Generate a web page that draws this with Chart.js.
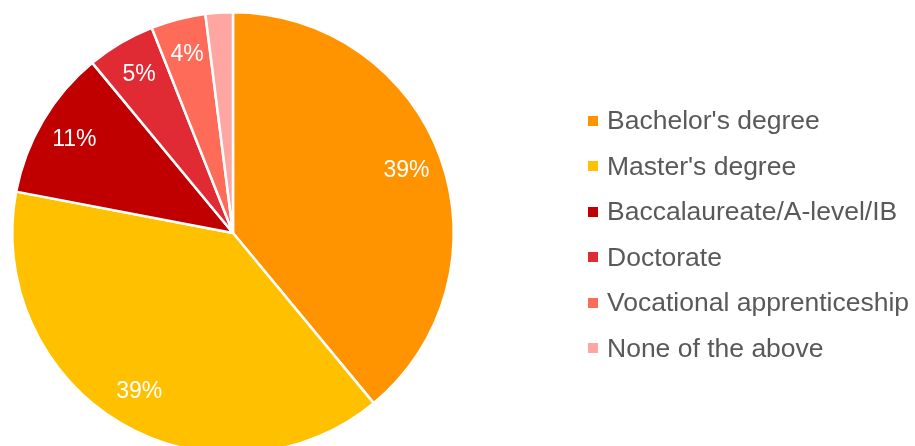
<!DOCTYPE html>
<html>
<head>
<meta charset="utf-8">
<title>Highest degree</title>
<script src="https://cdn.jsdelivr.net/npm/chart.js@4.4.1/dist/chart.umd.min.js"></script>
<style>
    html, body {
        margin: 0;
        padding: 0;
        background: #ffffff;
        overflow: hidden;
        width: 915px;
        height: 446px;
    }
    #wrap {
        position: relative;
        width: 915px;
        height: 470px;
    }
    #legend {
        position: absolute;
        left: 588px;
        top: 98px;
        font-family: "Liberation Sans", Arial, sans-serif;
        font-size: 26.5px;
        color: #595959;
    }
    .legend-row {
        display: flex;
        align-items: center;
        height: 45.5px;
        line-height: 45.5px;
        white-space: nowrap;
    }
    .legend-box {
        width: 10px;
        height: 10px;
        margin-right: 9px;
        flex: none;
    }
</style>
</head>
<body>
<div id="wrap">
    <canvas id="degreeChart" width="915" height="470"></canvas>
    <div id="legend"></div>
</div>
<script>
// data
const degreeLabels = [
    "Bachelor's degree",
    "Master's degree",
    'Baccalaureate/A-level/IB',
    'Doctorate',
    'Vocational apprenticeship',
    'None of the above'
];
const degreeShares = [39, 39, 11, 5, 4, 2];
const sliceColors = ['#FF9400', '#FFC000', '#C00000', '#E02B35', '#FF6B59', '#FFA6A3'];

// percentage text inside each slice (smallest slice left without)
const sliceLabelPlugin = {
    id: 'sliceLabels',
    afterDatasetsDraw(chart) {
        const ctx = chart.ctx;
        const meta = chart.getDatasetMeta(0);
        ctx.save();
        ctx.font = '23px "Liberation Sans", Arial, sans-serif';
        ctx.fillStyle = '#ffffff';
        ctx.textAlign = 'center';
        ctx.textBaseline = 'middle';
        meta.data.forEach((arc, i) => {
            const value = degreeShares[i];
            if (value < 3) return;
            const p = arc.getProps(['x', 'y', 'startAngle', 'endAngle', 'outerRadius'], true);
            const mid = (p.startAngle + p.endAngle) / 2;
            const r = p.outerRadius * 0.835;
            ctx.fillText(value + '%', p.x + Math.cos(mid) * r, p.y + Math.sin(mid) * r);
        });
        ctx.restore();
    }
};

const ctx = document.getElementById('degreeChart').getContext('2d');
const degreeChart = new Chart(ctx, {
    type: 'pie',
    data: {
        labels: degreeLabels,
        datasets: [{
            data: degreeShares,
            backgroundColor: sliceColors,
            borderColor: '#ffffff',
            borderWidth: 2.5
        }]
    },
    options: {
        responsive: false,
        animation: false,
        layout: {
            padding: { left: 11, top: 11, right: 460, bottom: 15 }
        },
        plugins: {
            legend: { display: false },
            tooltip: { enabled: false }
        }
    },
    plugins: [sliceLabelPlugin]
});

// legend on the right
const legendEl = document.getElementById('legend');
degreeLabels.forEach((label, i) => {
    const row = document.createElement('div');
    row.className = 'legend-row';
    const box = document.createElement('span');
    box.className = 'legend-box';
    box.style.background = sliceColors[i];
    const text = document.createElement('span');
    text.textContent = label;
    row.appendChild(box);
    row.appendChild(text);
    legendEl.appendChild(row);
});
</script>
</body>
</html>
